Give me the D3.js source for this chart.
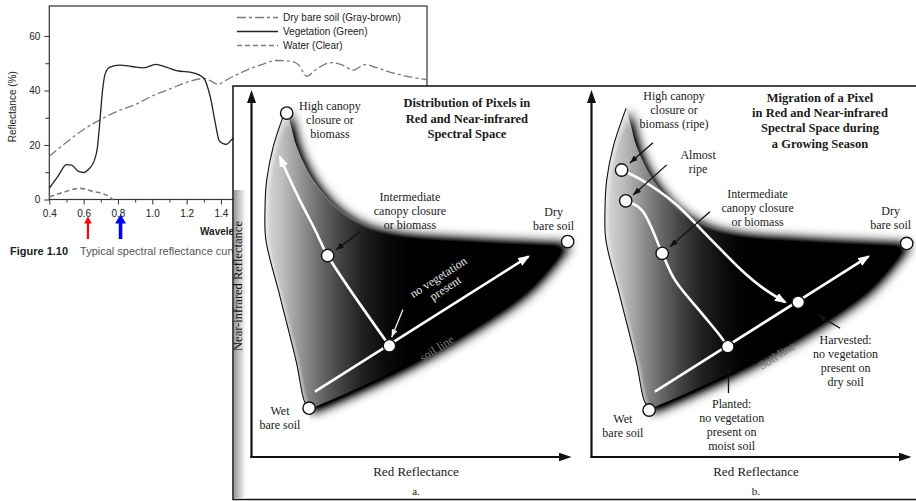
<!DOCTYPE html>
<html>
<head>
<meta charset="utf-8">
<script src="https://cdn.jsdelivr.net/npm/d3@7"></script>
<style>
  body { margin: 0; background: #fff; }
  svg { display: block; }
</style>
</head>
<body>
<div id="chart"></div>
<script>
// ---- spectral reflectance curves: [wavelength (µm), reflectance (%)]
const soilCurve = [[0.40,15.9],[0.50,21],[0.60,25.7],[0.70,29.4],[0.80,32.5],[0.90,34.8],[1.00,38],[1.10,40.5],[1.20,43],[1.30,44.4],[1.34,43.5],[1.38,42.3],[1.45,44.5],[1.55,47.5],[1.65,49.8],[1.72,51],[1.80,50.8],[1.85,49.5],[1.90,45.2],[1.95,47.5],[2.00,49.5],[2.05,50.2],[2.10,49.5],[2.17,47.5],[2.24,49.5],[2.30,48.5],[2.40,46.5],[2.50,45],[2.60,44]];
const vegCurve = [[0.40,4.1],[0.45,8.5],[0.50,12.8],[0.53,12.6],[0.57,10.3],[0.60,9.9],[0.63,11.2],[0.66,14],[0.68,19],[0.695,29],[0.71,40],[0.725,46],[0.75,48.5],[0.81,49.3],[0.88,48.8],[0.95,48.3],[1.02,49.6],[1.08,48.6],[1.14,47.3],[1.24,46.5],[1.30,44.5],[1.34,37],[1.37,27],[1.39,21.5],[1.43,20.2],[1.47,22.5],[1.55,27.5],[1.65,30],[1.75,29],[1.85,22],[1.90,9],[1.95,7],[2.05,11],[2.15,14.5],[2.25,13],[2.35,10],[2.45,8],[2.60,6.5]];
const waterCurve = [[0.40,1.0],[0.45,2.0],[0.50,3.0],[0.55,3.9],[0.58,4.1],[0.62,3.6],[0.656,2.9],[0.70,2.4],[0.733,1.6],[0.77,0]];
const legendLabels = ["Dry bare soil (Gray-brown)", "Vegetation (Green)", "Water (Clear)"];
const xMajorTicks = [0.4,0.6,0.8,1.0,1.2,1.4];          // the rest lie under the inset
const xMinorTicks = [0.5,0.7,0.9,1.1,1.3];
const yMajorTicks = [0,20,40,60];
const yMinorTicks = [10,30,50];
const bandWavelengths = [0.625, 0.815];   // red, near-infrared
const bandColors = ["#ff0000", "#0000ff"];

// ---- red / near-infrared spectral space (relative units 0-100 on both axes)
const shapeLeftEdge = [[10.8,95],[6.8,84.6],[4.75,75.5],[4.2,66.5],[4.5,59.1],[8.9,43.7],[14.1,25.5],[16.4,15.5],[18,13]];
const shapeBottomEdge = [[18,13],[30,17.5],[45.4,23.7],[66.2,33.7],[87,46.4],[98.8,58.7]];
const shapeTopEdge = [[98.8,58.7],[66.2,60],[45.4,61.4],[34.9,63.7],[26.6,68.2],[19.3,75.5],[14.1,84.6],[12.4,90],[10.8,95]];
const soilLine = [[19.8,17.8],[86.5,54.6]];

const pointsA = [[11,93.7],[23.8,54.9],[43.1,30.3],[18,13.3],[98.8,58.7]];
const vegPathA = [[43.1,30.3],[23.8,54.9],[19.8,62],[15.2,69.8],[11.8,76],[8.9,81.8]];
const pointersA = [[[33.9,61.4],[26.4,56.4]],[[47.3,40.1],[43.8,32.6]]];
const labelsA = [
  {lines: ["High canopy","closure or","biomass"], at: [24.5,95.9]},
  {lines: ["Intermediate","canopy closure","or biomass"], at: [49.5,71]},
  {lines: ["Dry","bare soil"], at: [94.4,67]},
  {lines: ["Wet","bare soil"], at: [8.9,12.8]}
];
const titleA = ["Distribution of Pixels in","Red and Near-infrared","Spectral Space"];

const pointsB = [[9.4,78.2],[10.7,69.8],[22.1,55.5],[42.6,30.1],[64.6,42.2],[18,12.8],[98.5,58.2]];
const ripePathB = [[9.4,78.2],[15.6,75.5],[26.1,69.1],[36.5,60],[46.9,50.9],[53.2,46.3],[60.5,42.2]];
const growPathB = [[10.7,69.8],[15.7,67.3],[22.1,55.5],[26.1,48.2],[34.4,39.2],[39.6,33.7],[42.6,30.1]];
const pointersB = [[[19.2,85.6],[12,80.1]],[[23.5,79.6],[13,71.4]],[[37,66.8],[24.5,57.3]],[[42.8,17.4],[42.8,25.1]],[[77.7,35.1],[70.8,38.7]]];
const labelsB = [
  {lines: ["High canopy","closure or","biomass (ripe)"], at: [25.8,98.6]},
  {lines: ["Almost","ripe"], at: [33.3,82.3]},
  {lines: ["Intermediate","canopy closure","or biomass"], at: [51.9,71.9]},
  {lines: ["Dry","bare soil"], at: [93.5,67.3]},
  {lines: ["Wet","bare soil"], at: [9.8,10.6]},
  {lines: ["Planted:","no vegetation","present on","moist soil"], at: [43.8,14.7]},
  {lines: ["Harvested:","no vegetation","present on","dry soil"], at: [79.4,31.9]}
];
const titleB = ["Migration of a Pixel","in Red and Near-infrared","Spectral Space during","a Growing Season"];

const W = 916, H = 501;
const sans = "'Liberation Sans', Arial, sans-serif";
const serif = "'Liberation Serif', 'Times New Roman', serif";

const svg = d3.select("#chart").append("svg")
    .attr("width", W)
    .attr("height", H);

const defs = svg.append("defs");

const soft = defs.append("filter").attr("id", "soft")
    .attr("x", "-20%").attr("y", "-20%").attr("width", "140%").attr("height", "140%");
soft.append("feGaussianBlur").attr("in", "SourceGraphic").attr("stdDeviation", 6);
soft.append("feComponentTransfer").append("feFuncA").attr("type", "linear").attr("slope", 1.5);

const lightSide = defs.append("linearGradient").attr("id", "lightSide")
    .attr("x1", 0).attr("x2", 1).attr("y1", 0).attr("y2", 0);
[[0,0.86],[0.06,0.74],[0.12,0.58],[0.18,0.42],[0.25,0.26],[0.32,0.13],[0.4,0.04],[0.48,0]].forEach(([o, a]) => {
    lightSide.append("stop").attr("offset", o).attr("stop-color", "#fff").attr("stop-opacity", a);
});

const band = defs.append("linearGradient").attr("id", "edgeBand")
    .attr("x1", 0).attr("x2", 1).attr("y1", 0).attr("y2", 0);
band.append("stop").attr("offset", 0).attr("stop-color", "#9a9a9a");
band.append("stop").attr("offset", 1).attr("stop-color", "#fff");

function marker(id, w, h, color, refX) {
    defs.append("marker").attr("id", id)
        .attr("viewBox", `0 0 ${w} ${h}`)
        .attr("refX", refX).attr("refY", h / 2)
        .attr("markerWidth", w).attr("markerHeight", h)
        .attr("markerUnits", "userSpaceOnUse")
        .attr("orient", "auto")
        .append("path")
        .attr("d", `M0,0L${w},${h / 2}L0,${h}Z`)
        .attr("fill", color);
}
// axis shafts stop 10px short of the tip, so the head sits past the line end
marker("axisHead", 13, 9, "#111", 3);
marker("whiteHead", 12, 9, "#fff", 10);
marker("ptrHead", 8, 6, "#111", 8);
marker("ptrHeadWhite", 8, 6, "#f2f2f2", 8);

// ================= spectral reflectance chart (behind) =================
const xS = d3.scaleLinear().domain([0.4, 2.6]).range([49.3, 427]);
const yS = d3.scaleLinear().domain([0, 71]).range([199.5, 6]);

const chart = svg.append("g").attr("font-family", sans);

chart.append("rect")
    .attr("x", xS(0.4)).attr("y", yS(71))
    .attr("width", xS(2.6) - xS(0.4)).attr("height", yS(0) - yS(71))
    .attr("fill", "none").attr("stroke", "#333").attr("stroke-width", 1.2);

function styleAxis(g) {
    g.select(".domain").remove();
    g.selectAll("line").attr("stroke", "#333");
    g.selectAll("text").attr("font-size", "10px").attr("fill", "#222").attr("font-family", sans);
}

chart.append("g").attr("transform", `translate(${xS(0.4)},0)`)
    .call(d3.axisLeft(yS).tickValues(yMajorTicks).tickSize(5).tickPadding(4).tickFormat(d3.format("d")))
    .call(styleAxis);
chart.append("g").attr("transform", `translate(${xS(0.4)},0)`)
    .call(d3.axisLeft(yS).tickValues(yMinorTicks).tickSize(4).tickFormat(""))
    .call(styleAxis);
chart.append("g").attr("transform", `translate(0,${yS(0)})`)
    .call(d3.axisBottom(xS).tickValues(xMajorTicks).tickSize(5).tickPadding(5).tickFormat(d3.format(".1f")))
    .call(styleAxis);
chart.append("g").attr("transform", `translate(0,${yS(0)})`)
    .call(d3.axisBottom(xS).tickValues(xMinorTicks).tickSize(3).tickFormat(""))
    .call(styleAxis);

chart.append("text")
    .attr("transform", `translate(16,${(yS(0) + yS(71)) / 2 + 4}) rotate(-90)`)
    .attr("text-anchor", "middle")
    .attr("font-size", "10px").attr("fill", "#222")
    .text("Reflectance (%)");

chart.append("text")
    .attr("x", 200).attr("y", 235)
    .attr("font-size", "10px").attr("font-weight", "bold").attr("fill", "#222")
    .text("Wavelength (µm)");

const spectral = d3.line()
    .x(d => xS(d[0]))
    .y(d => yS(d[1]))
    .curve(d3.curveMonotoneX);

const curveStyles = [
    {data: soilCurve, stroke: "#7a7a7a", dash: "9,3,3,3", width: 1.3},
    {data: vegCurve, stroke: "#222", dash: null, width: 1.3},
    {data: waterCurve, stroke: "#808080", dash: "5,3", width: 1.6}
];

curveStyles.forEach(c => {
    chart.append("path")
        .attr("d", spectral(c.data))
        .attr("fill", "none")
        .attr("stroke", c.stroke)
        .attr("stroke-width", c.width)
        .attr("stroke-dasharray", c.dash);
});

const legend = chart.append("g").attr("transform", "translate(237,17.5)");
legendLabels.forEach((label, i) => {
    const s = curveStyles[i];
    legend.append("line")
        .attr("x1", 0).attr("x2", 41)
        .attr("y1", i * 14).attr("y2", i * 14)
        .attr("stroke", s.stroke).attr("stroke-width", s.width)
        .attr("stroke-dasharray", s.dash);
    legend.append("text")
        .attr("x", 46).attr("y", i * 14 + 3.5)
        .attr("font-size", "10px").attr("fill", "#222")
        .text(label);
});

// red and NIR band markers under the axis
bandWavelengths.forEach((w, i) => {
    const x = xS(w);
    const big = i === 1;
    const top = big ? 214.5 : 216.5, bottom = 239;
    const sw = big ? 1.8 : 1.1, hw = big ? 5.5 : 3.8, hl = big ? 9 : 7;
    chart.append("path")
        .attr("d", `M${x},${top}L${x + hw},${top + hl}L${x + sw},${top + hl}L${x + sw},${bottom}` +
                   `L${x - sw},${bottom}L${x - sw},${top + hl}L${x - hw},${top + hl}Z`)
        .attr("fill", bandColors[i]);
});

const caption = chart.append("text").attr("x", 10).attr("y", 255).attr("font-size", "11px");
caption.append("tspan").attr("font-weight", "bold").attr("fill", "#222").text("Figure 1.10");
caption.append("tspan").attr("dx", 12).attr("fill", "#555")
    .text("Typical spectral reflectance curves");

// ================= spectral-space panels (front) =================
const panel = svg.append("g");
panel.append("rect")
    .attr("x", 233).attr("y", 86)
    .attr("width", 720).attr("height", 413.5)
    .attr("fill", "#fff")
    .attr("stroke", "#111").attr("stroke-width", 1.5);
panel.append("rect")
    .attr("x", 234).attr("y", 190)
    .attr("width", 12).attr("height", 308.5)
    .attr("fill", "url(#edgeBand)");

function multiLine(g, lines, x, y, lh, opts) {
    const t = g.append("text")
        .attr("text-anchor", "middle")
        .attr("font-family", serif)
        .attr("font-size", opts.size)
        .attr("font-weight", opts.bold ? "bold" : "normal")
        .attr("fill", opts.fill || "#1a1a1a");
    lines.forEach((l, i) => {
        t.append("tspan").attr("x", x).attr("y", y + i * lh).text(l);
    });
    return t;
}

function drawPanel(id, originX, cfg) {
    const px = d3.scaleLinear().domain([0, 100]).range([originX, originX + 320]);
    const py = d3.scaleLinear().domain([0, 100]).range([457, 90]);
    const g = panel.append("g");

    const edge = (pts, curve) => d3.line()
        .x(d => px(d[0])).y(d => py(d[1]))
        .curve(curve || d3.curveCatmullRom)(pts);

    const left = edge(shapeLeftEdge);
    const shapeD = left + edge(shapeBottomEdge).replace(/^M/, "L") +
        edge(shapeTopEdge).replace(/^M/, "L") + "Z";

    // shadow may spread right, up and down but never past the hard left edge
    defs.append("clipPath").attr("id", "noleft-" + id)
        .append("path")
        .attr("d", `M${px(115)},${py(108)}L${px(shapeLeftEdge[0][0])},${py(108)}` +
            left.replace(/^M/, "L") +
            `L${px(18)},${py(-8)}L${px(115)},${py(-8)}Z`);

    g.append("g").attr("clip-path", `url(#noleft-${id})`)
        .append("path")
        .attr("d", shapeD)
        .attr("transform", "translate(3,3)")
        .attr("fill", "#000")
        .attr("filter", "url(#soft)");

    g.append("path").attr("d", shapeD).attr("fill", "url(#lightSide)");
    g.append("path").attr("d", left)
        .attr("fill", "none").attr("stroke", "#111").attr("stroke-width", 1.1);

    // soil line and vegetation trajectories
    const whiteLine = (pts, curve, arrow) => g.append("path")
        .attr("d", edge(pts, curve))
        .attr("fill", "none").attr("stroke", "#fff").attr("stroke-width", 2.6)
        .attr("marker-end", arrow ? "url(#whiteHead)" : null);
    whiteLine(soilLine, d3.curveLinear, true);
    cfg.paths.forEach(p => whiteLine(p.pts, d3.curveCatmullRom, p.arrow));

    // rotated inline notes
    cfg.notes.forEach(n => {
        const t = g.append("text")
            .attr("transform", `translate(${px(n.at[0])},${py(n.at[1])}) rotate(-33)`)
            .attr("text-anchor", "middle")
            .attr("font-family", serif).attr("font-size", "12px")
            .attr("fill", n.fill);
        n.lines.forEach((l, i) => t.append("tspan").attr("x", 0).attr("y", i * 13 - (n.lines.length - 1) * 6.5 + 4).text(l));
    });

    // pointer arrows (light ones sit on the dark body)
    cfg.pointers.forEach((p, i) => {
        const light = cfg.lightPointers.includes(i);
        g.append("line")
            .attr("x1", px(p[0][0])).attr("y1", py(p[0][1]))
            .attr("x2", px(p[1][0])).attr("y2", py(p[1][1]))
            .attr("stroke", light ? "#f2f2f2" : "#111").attr("stroke-width", 1.3)
            .attr("marker-end", light ? "url(#ptrHeadWhite)" : "url(#ptrHead)");
    });

    g.selectAll("circle.pt")
        .data(cfg.points)
        .join("circle")
        .attr("class", "pt")
        .attr("cx", d => px(d[0])).attr("cy", d => py(d[1]))
        .attr("r", 6.2)
        .attr("fill", "#fff").attr("stroke", "#111").attr("stroke-width", 1.4);

    cfg.labels.forEach(l => multiLine(g, l.lines, px(l.at[0]), py(l.at[1]) + 4.5, 14, {size: "12px"}));
    multiLine(g, cfg.title, px(cfg.titleAt[0]), py(cfg.titleAt[1]) + 4.5, 15.3, {size: "12.5px", bold: true});

    // axes
    g.append("line")
        .attr("x1", px(0)).attr("y1", py(0) + 1)
        .attr("x2", px(0)).attr("y2", py(100) + 10)
        .attr("stroke", "#111").attr("stroke-width", 2.2)
        .attr("marker-end", "url(#axisHead)");
    g.append("line")
        .attr("x1", px(0) - 1).attr("y1", py(0))
        .attr("x2", px(100) - 10).attr("y2", py(0))
        .attr("stroke", "#111").attr("stroke-width", 2.2)
        .attr("marker-end", "url(#axisHead)");

    g.append("text")
        .attr("x", px(51.4)).attr("y", 476)
        .attr("text-anchor", "middle")
        .attr("font-family", serif).attr("font-size", "13px").attr("fill", "#1a1a1a")
        .text("Red Reflectance");
    g.append("text")
        .attr("x", px(51.4)).attr("y", 495)
        .attr("text-anchor", "middle")
        .attr("font-family", serif).attr("font-size", "11px").attr("fill", "#1a1a1a")
        .text(cfg.tag);

    if (cfg.yLabel) {
        g.append("text")
            .attr("transform", `translate(${px(-4.1) + 4},${py(46.6)}) rotate(-90)`)
            .attr("text-anchor", "middle")
            .attr("font-family", serif).attr("font-size", "12.5px").attr("fill", "#111")
            .text("Near-infrared Reflectance");
    }
}

drawPanel("a", 251.5, {
    points: pointsA,
    paths: [{pts: vegPathA, arrow: true}],
    pointers: pointersA,
    lightPointers: [1],
    labels: labelsA,
    title: titleA, titleAt: [67.3, 96.5],
    notes: [
        {lines: ["no vegetation", "present"], at: [59.5, 47.5], fill: "#e8e8e8"},
        {lines: ["soil line"], at: [57.9, 29.6], fill: "#777"}
    ],
    tag: "a.",
    yLabel: true
});

drawPanel("b", 591.5, {
    points: pointsB,
    paths: [{pts: ripePathB, arrow: true}, {pts: growPathB, arrow: false}],
    pointers: pointersB,
    lightPointers: [],
    labels: labelsB,
    title: titleB, titleAt: [71.4, 98],
    notes: [
        {lines: ["Soil line"], at: [57.9, 27.6], fill: "#777"}
    ],
    tag: "b.",
    yLabel: false
});
</script>
</body>
</html>
